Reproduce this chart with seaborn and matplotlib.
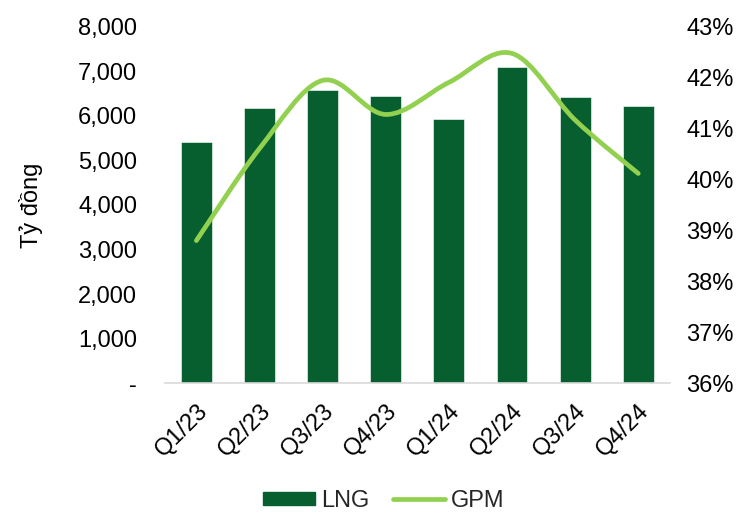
import matplotlib
matplotlib.use("Agg")
import matplotlib.pyplot as plt
import numpy as np
import pandas as pd
import seaborn as sns
from matplotlib.path import Path
from matplotlib.patches import PathPatch, Patch
from matplotlib.lines import Line2D
from matplotlib.ticker import FuncFormatter, FixedLocator

# data
quarters = ["Q1/23", "Q2/23", "Q3/23", "Q4/23", "Q1/24", "Q2/24", "Q3/24", "Q4/24"]
lng = [5410, 6170, 6580, 6460, 5930, 7090, 6420, 6220]
gpm = [0.3880, 0.4061, 0.4195, 0.4128, 0.4191, 0.4248, 0.4117, 0.4012]

BAR_COLOR = "#075E2E"
LINE_COLOR = "#92D050"
FS = 17

sns.set_theme(style="white")
plt.rcParams["font.family"] = ["Liberation Sans", "DejaVu Sans"]

df = pd.DataFrame({"quarter": quarters, "LNG": lng})

fig = plt.figure(figsize=(7.56, 5.13), dpi=100)
ax = fig.add_axes([0.218, 0.2534, 0.668, 0.6940])

sns.barplot(data=df, x="quarter", y="LNG", color=BAR_COLOR, saturation=1,
            width=0.49, edgecolor="white", linewidth=0.4, ax=ax)
ax.set_xlim(-0.5, len(quarters) - 0.5)
ax.set_ylim(0, 8000)
ax.yaxis.set_major_locator(FixedLocator(np.arange(0, 8001, 1000)))
ax.yaxis.set_major_formatter(FuncFormatter(lambda v, p: "-" if v == 0 else f"{v:,.0f}"))
ax.set_xlabel("")
ax.set_ylabel("Tỷ đồng", fontsize=FS, color="black", labelpad=25)
ax.tick_params(axis="y", length=0, pad=20, labelsize=FS, labelcolor="black")
ax.tick_params(axis="x", length=0, pad=12, labelsize=FS, labelcolor="black")
for lab in ax.get_xticklabels():
    lab.set_rotation(45)
    lab.set_ha("right")
    lab.set_rotation_mode("anchor")

for s in ["top", "left", "right"]:
    ax.spines[s].set_visible(False)
ax.spines["bottom"].set_color("#D9D9D9")
ax.spines["bottom"].set_linewidth(1.2)

# secondary axis: smoothed GPM line (Excel-like bezier smoothing)
ax2 = ax.twinx()
ax2.set_ylim(0.36, 0.43)
ax2.yaxis.set_major_locator(FixedLocator(np.arange(0.36, 0.4301, 0.01)))
ax2.yaxis.set_major_formatter(FuncFormatter(lambda v, p: f"{v * 100:.0f}%"))
ax2.tick_params(axis="y", length=0, pad=12, labelsize=FS, labelcolor="black")
for s in ["top", "left", "right", "bottom"]:
    ax2.spines[s].set_visible(False)
ax2.grid(False)

xs = np.arange(len(quarters), dtype=float)
ys = np.array(gpm)
verts = [(xs[0], ys[0])]
codes = [Path.MOVETO]
n = len(xs)
for i in range(n - 1):
    p0 = np.array([xs[max(i - 1, 0)], ys[max(i - 1, 0)]])
    p1 = np.array([xs[i], ys[i]])
    p2 = np.array([xs[i + 1], ys[i + 1]])
    p3 = np.array([xs[min(i + 2, n - 1)], ys[min(i + 2, n - 1)]])
    c1 = p1 + (p2 - p0) / 6
    c2 = p2 - (p3 - p1) / 6
    verts += [tuple(c1), tuple(c2), tuple(p2)]
    codes += [Path.CURVE4] * 3
ax2.add_patch(PathPatch(Path(verts, codes), facecolor="none", edgecolor=LINE_COLOR,
                        linewidth=3.4, capstyle="round", joinstyle="round"))

handles = [Patch(facecolor=BAR_COLOR, edgecolor=BAR_COLOR, label="LNG"),
           Line2D([0], [0], color=LINE_COLOR, linewidth=3.4, label="GPM")]
fig.legend(handles=handles, loc="center", bbox_to_anchor=(0.508, 0.024), ncol=2,
           frameon=False, fontsize=FS, handlelength=2.2, handleheight=0.5,
           handletextpad=0.25, columnspacing=1.0, borderpad=0)

fig.savefig("out.png", dpi=100)
